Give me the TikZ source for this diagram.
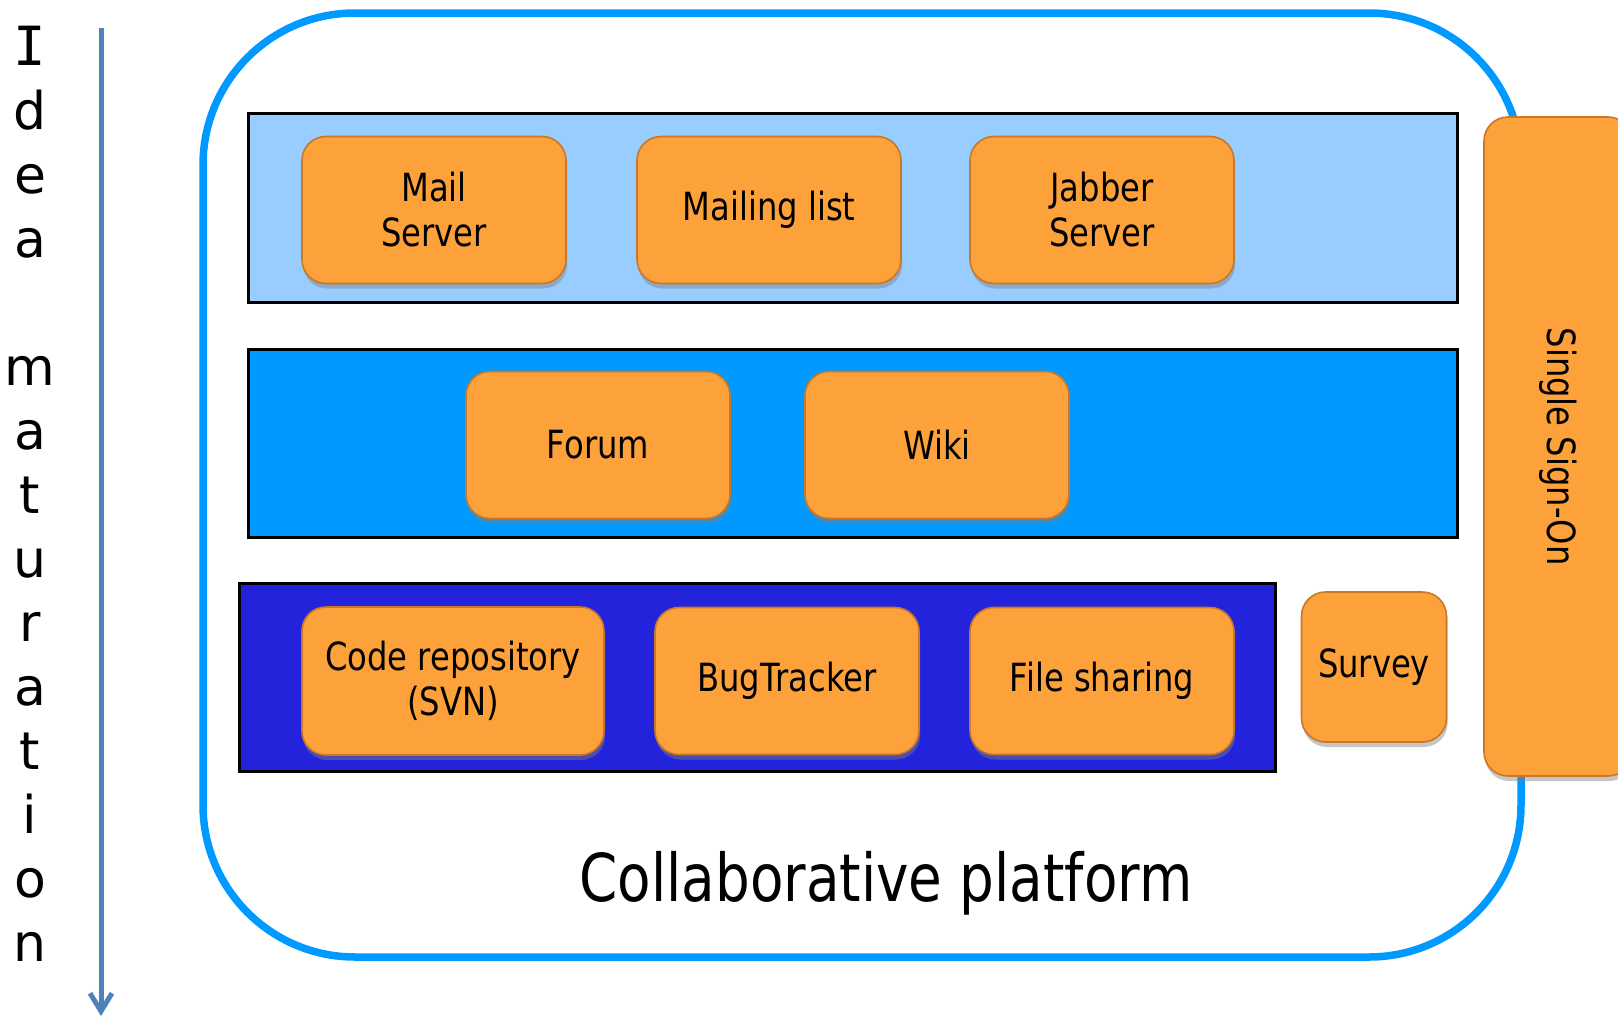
\documentclass[tikz,border=0pt]{standalone}
\usepackage{fontspec}
\setmainfont{DejaVu Sans}[FakeStretch=0.83]
\newfontfamily\sidefont{DejaVu Sans}
\newfontfamily\sidemono{DejaVu Sans Mono}
\usetikzlibrary{arrows.meta,shadows}

\definecolor{platblue}{RGB}{0,153,255}
\definecolor{layerone}{RGB}{153,204,255}
\definecolor{layertwo}{RGB}{0,153,255}
\definecolor{layerthree}{RGB}{35,35,220}
\definecolor{boxorange}{RGB}{253,161,58}
\definecolor{boxedge}{RGB}{200,120,40}
\definecolor{arrowblue}{RGB}{79,129,189}

\tikzset{
  service/.style={draw=boxedge, line width=0.8pt, fill=boxorange,
    rounded corners=12pt, align=center, inner sep=0pt,
    drop shadow={shadow xshift=0.6pt, shadow yshift=-2.5pt, opacity=0.45},
    font=\fontsize{19.4}{22.5}\selectfont,
    minimum width=132pt, minimum height=73.5pt},
  layer/.style={draw=black, line width=1.5pt},
  letter/.style={font=\sidefont\fontsize{26}{26}\selectfont, anchor=base, inner sep=0pt},
}

\begin{document}
\begin{tikzpicture}[x=0.5pt, y=-0.5pt]
  \clip (0,0) rectangle (1618,1017);

  % Maturation arrow
  \coordinate (arrtop) at (101,28);
  \coordinate (arrbot) at (101,1016);
  \draw[arrowblue, line width=2.5pt, -{Straight Barb[length=9pt,width=11pt]}] (arrtop) -- (arrbot);
  \node[letter, font=\sidemono\fontsize{27}{27}\selectfont] (idea0) at (30,65) {I};
  \foreach \ch/\row in {d/1,e/2,a/3,m/5,a/6,t/7,u/8,r/9,a/10,t/11,i/12,o/13,n/14}
    \node[letter] (idea\row) at (30,65+64*\row) {\ch};

  % Platform frame
  \draw[platblue, line width=3.75pt, rounded corners=76pt] (203,13) rectangle (1521,957);
  \node[font=\fontsize{33}{33}\selectfont, anchor=base, inner sep=0pt] (platlabel) at (886,901) {Collaborative platform};

  % Layers
  \draw[layer, fill=layerone] (248,113) rectangle (1457,302);
  \draw[layer, fill=layertwo] (248,349) rectangle (1457,537);
  \draw[layer, fill=layerthree] (239,583) rectangle (1275,771);

  % Services
  \node[service] (mail) at (434,210) {Mail\\Server};
  \node[service] (list) at (769,210) {Mailing list};
  \node[service] (jabber) at (1102,210) {Jabber\\Server};
  \node[service] (forum) at (598,445) {Forum};
  \node[service] (wiki) at (937,445) {Wiki};
  \node[service, minimum width=151pt, minimum height=74pt] (svn) at (453,681) {Code repository\\(SVN)};
  \node[service] (bugs) at (787,681) {BugTracker};
  \node[service] (files) at (1102,681) {File sharing};
  \node[service, minimum width=72.5pt, minimum height=75pt] (survey) at (1374,667) {Survey};
  \node[service, rotate=-90, minimum width=329.5pt, minimum height=74pt] (sso) at (1558,446.5) {Single Sign-On};
\end{tikzpicture}
\end{document}
